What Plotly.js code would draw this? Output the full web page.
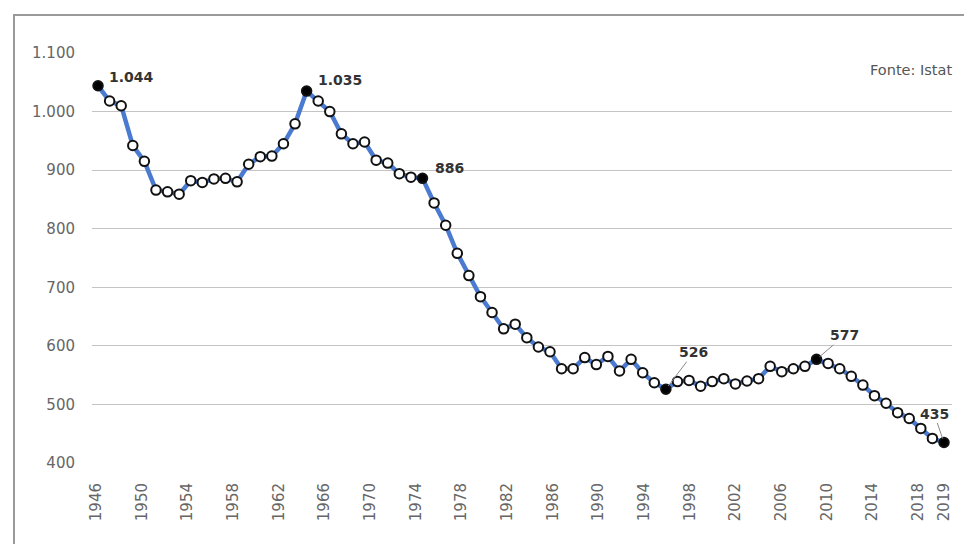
<!DOCTYPE html>
<html>
<head>
<meta charset="utf-8">
<script src="https://cdn.plot.ly/plotly-3.0.1.min.js"></script>
<style>
  html, body { margin: 0; padding: 0; background: #ffffff; }
  #chart { width: 964px; height: 544px; }
</style>
</head>
<body>
<div id="chart"></div>
<script>
// Years 1946-2019
const years = [
  1946,1947,1948,1949,1950,1951,1952,1953,1954,1955,
  1956,1957,1958,1959,1960,1961,1962,1963,1964,1965,
  1966,1967,1968,1969,1970,1971,1972,1973,1974,1975,
  1976,1977,1978,1979,1980,1981,1982,1983,1984,1985,
  1986,1987,1988,1989,1990,1991,1992,1993,1994,1995,
  1996,1997,1998,1999,2000,2001,2002,2003,2004,2005,
  2006,2007,2008,2009,2010,2011,2012,2013,2014,2015,
  2016,2017,2018,2019
];
// Births (thousands)
const births = [
  1044,1018,1010,942,915,866,863,859,882,879,
  885,886,880,910,923,924,945,979,1035,1018,
  1000,962,945,948,917,912,894,888,886,844,
  806,758,720,684,657,629,637,614,598,590,
  561,561,580,568,582,557,577,554,537,526,
  539,541,531,539,544,535,540,544,565,556,
  561,565,577,570,561,548,533,515,502,486,
  476,459,442,435
];
// Highlighted (labelled) years
const highlightYears = [1946, 1964, 1974, 1995, 2008, 2019];
// X tick labels: every 4 years, plus the final year
const xTickYears = [1946,1950,1954,1958,1962,1966,1970,1974,1978,1982,1986,1990,1994,1998,2002,2006,2010,2014,2018];
const xLastTick = [2019];
const yTickVals = [400,500,600,700,800,900,1000,1100];
const sourceText = "Fonte: Istat";

function fmtIt(v) {
  if (v >= 1000) {
    return Math.floor(v / 1000) + "." + String(v % 1000).padStart(3, "0");
  }
  return String(v);
}

const markerFill = years.map(y => highlightYears.includes(y) ? "#000000" : "#ffffff");

const trace = {
  x: years,
  y: births,
  type: "scatter",
  mode: "lines+markers",
  line: { color: "#4a7bd0", width: 4.5 },
  marker: {
    size: 9.5,
    color: markerFill,
    line: { color: "#111111", width: 2 }
  },
  cliponaxis: false,
  hoverinfo: "x+y"
};

// invisible companion trace that carries the (slightly compressed) category label axis
const labelTrace = {
  x: years,
  y: births,
  xaxis: "x2",
  yaxis: "y",
  type: "scatter",
  mode: "lines",
  line: { width: 0, color: "rgba(0,0,0,0)" },
  opacity: 0,
  hoverinfo: "skip",
  showlegend: false
};

// Label placement offsets (pixels)
const labelOffsets = {
  1946: { dx: 9, dy: 9, arrow: false },
  1964: { dx: 9, dy: 11, arrow: false },
  1974: { dx: 10, dy: 10, arrow: false },
  1995: { dx: 28, dy: -37, arrow: true },
  2008: { dx: 28, dy: -24, arrow: true },
  2019: { dx: -10, dy: -29, arrow: true }
};

const labelFont = { family: "DejaVu Sans", size: 14, color: "#333333", weight: "bold" };

const annotations = highlightYears.map(yr => {
  const i = years.indexOf(yr);
  const o = labelOffsets[yr];
  const txt = "<b>" + fmtIt(births[i]) + "</b>";
  if (o.arrow) {
    return {
      x: years[i], y: births[i], xref: "x", yref: "y",
      text: txt, showarrow: true, arrowhead: 0, arrowwidth: 1,
      arrowcolor: "#8a8a8a", ax: o.dx, ay: o.dy, standoff: 4,
      font: labelFont
    };
  }
  return {
    x: years[i], y: births[i], xref: "x", yref: "y",
    text: txt, showarrow: false, xanchor: "left", yanchor: "middle",
    xshift: o.dx, yshift: o.dy, font: labelFont
  };
});

annotations.push({
  x: 1, y: 1, xref: "paper", yref: "paper",
  xanchor: "right", yanchor: "top", yshift: -7, xshift: 2,
  text: sourceText, showarrow: false,
  font: { family: "DejaVu Sans", size: 14.5, color: "#555555" }
});

const tickFont = { family: "DejaVu Sans", size: 15, color: "#666666" };

const baseX = {
  tickangle: -90,
  showgrid: false,
  zeroline: false,
  showline: false,
  ticks: "outside",
  ticklen: 13,
  tickcolor: "rgba(0,0,0,0)",
  tickfont: tickFont,
  fixedrange: true
};

const layout = {
  width: 964,
  height: 544,
  margin: { l: 92, r: 12, t: 53, b: 81, pad: 0 },
  paper_bgcolor: "#ffffff",
  plot_bgcolor: "#ffffff",
  separators: ",.",
  showlegend: false,
  xaxis: Object.assign({}, baseX, {
    type: "linear",
    range: [1945.48, 2019.69],
    tickvals: xLastTick,
    ticktext: xLastTick.map(String)
  }),
  xaxis2: Object.assign({}, baseX, {
    type: "linear",
    overlaying: "x",
    anchor: "y",
    side: "bottom",
    range: [1945.65, 2020.98],
    tickvals: xTickYears,
    ticktext: xTickYears.map(String)
  }),
  yaxis: {
    range: [400, 1100],
    tickvals: yTickVals,
    tickformat: ",d",
    showgrid: true,
    gridcolor: "#c4c4c4",
    gridwidth: 1,
    zeroline: false,
    showline: false,
    ticks: "outside",
    ticklen: 13,
    tickcolor: "rgba(0,0,0,0)",
    tickfont: tickFont,
    fixedrange: true
  },
  annotations: annotations,
  shapes: [
    { type: "line", xref: "paper", yref: "paper",
      x0: (14 - 92) / 860, x1: (14 - 92) / 860, y0: 1 + (53 - 15) / 410, y1: (463 - 546) / 410,
      line: { color: "#9a9a9a", width: 2 } },
    { type: "line", xref: "paper", yref: "paper",
      x0: (13 - 92) / 860, x1: (966 - 92) / 860, y0: 1 + (53 - 15) / 410, y1: 1 + (53 - 15) / 410,
      line: { color: "#9a9a9a", width: 2 } }
  ]
};

Plotly.newPlot("chart", [labelTrace, trace], layout, { displayModeBar: false, staticPlot: true });
</script>
</body>
</html>
